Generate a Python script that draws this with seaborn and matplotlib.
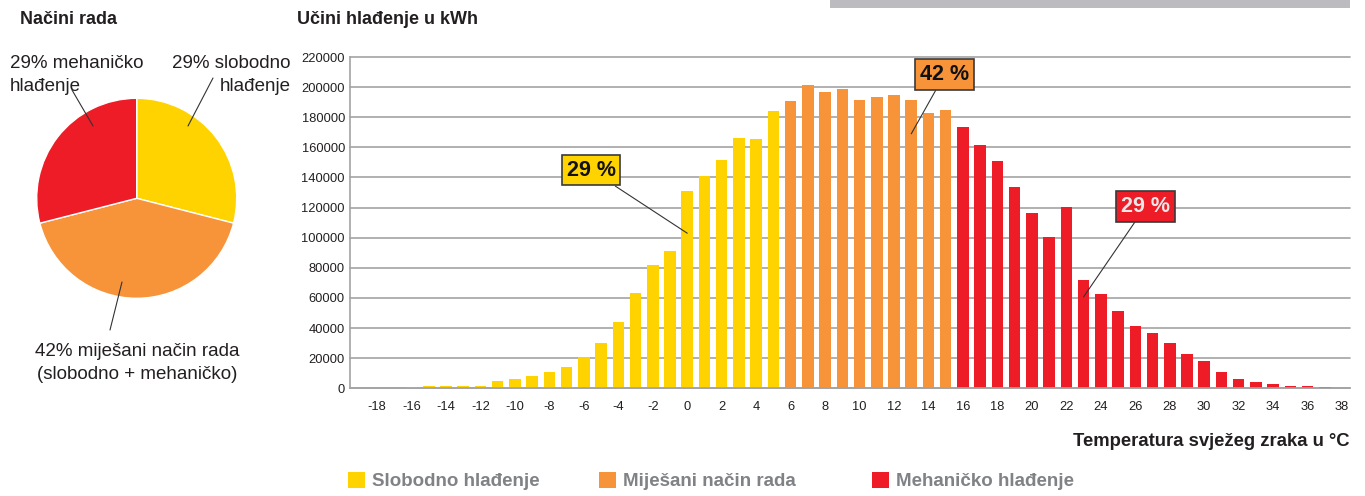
import matplotlib
matplotlib.use("Agg")
import matplotlib.pyplot as plt
import seaborn as sns
import pandas as pd
from matplotlib.patches import Patch, Rectangle

# ---------------- data ----------------
temps = list(range(-18, 39))
energy_kwh = [
    200, 300, 700, 1300, 1400, 1800, 1800, 4700, 6200, 8000,
    10900, 14400, 20900, 29800, 44200, 63400, 82000, 91300, 131000, 141200,
    151800, 166200, 165500, 183900, 190800, 201200, 197000, 198800, 191500, 193500,
    195000, 191700, 183000, 185000, 173700, 161800, 150900, 133400, 116100, 100800,
    120100, 71700, 62600, 51100, 41500, 36900, 30000, 22600, 18200, 10700,
    6200, 4200, 2900, 1600, 1600, 900, 400,
]
mode_names = ["Slobodno hlađenje", "Miješani način rada", "Mehaničko hlađenje"]
mode_colors = ["#FED300", "#F7943A", "#ED1C27"]
mixed_from_temp = 6
mech_from_temp = 16
pie_shares = [29, 42, 29]
pie_labels = ["29% slobodno\nhlađenje", "42% miješani način rada\n(slobodno + mehaničko)",
              "29% mehaničko\nhlađenje"]
box_labels = ["29 %", "42 %", "29 %"]
y_ticks = list(range(0, 220001, 20000))
x_ticks = list(range(-18, 39, 2))

modes = [mode_names[0] if t < mixed_from_temp else (mode_names[1] if t < mech_from_temp else mode_names[2])
         for t in temps]
df = pd.DataFrame({"temp": temps, "kwh": energy_kwh, "mode": modes})

# ---------------- style ----------------
sns.set_style("white")
plt.rcParams["font.family"] = ["Liberation Sans", "DejaVu Sans"]
TXT = "#231f20"

W, H = 1365, 496
fig = plt.figure(figsize=(W / 100, H / 100), dpi=100)


def fx(px):
    return px / W


def fy(py):
    return 1 - py / H


# ---------------- bar chart ----------------
ax = fig.add_axes([fx(350), fy(388.3), 1000 / W, 331.3 / H])
sns.barplot(data=df, x="temp", y="kwh", hue="mode", hue_order=mode_names, palette=mode_colors,
            native_scale=True, width=0.67, dodge=False, saturation=1, legend=False,
            linewidth=0, ax=ax)
ax.set_xlim(-19.57, 38.46)
ax.set_ylim(0, 220000)
ax.set_xticks(x_ticks)
ax.set_xticklabels([str(t) for t in x_ticks])
ax.set_yticks(y_ticks)
ax.set_yticklabels([str(v) for v in y_ticks])
ax.tick_params(axis="both", length=0, labelsize=9.3, colors=TXT)
ax.tick_params(axis="x", pad=9.4)
ax.tick_params(axis="y", pad=3.6)
ax.set_xlabel("")
ax.set_ylabel("")
ax.set_axisbelow(True)
ax.yaxis.grid(True, color="#a3a3a3", linewidth=1.2)
for gl in ax.get_ygridlines():
    gl.set_clip_on(False)
for s in ["top", "right"]:
    ax.spines[s].set_visible(False)
for s in ["left", "bottom"]:
    ax.spines[s].set_color("#a3a3a3")
    ax.spines[s].set_linewidth(1.2)

# percentage call-out boxes
box_specs = [
    (box_labels[0], (0, 103000), (-5.58, 144800), mode_colors[0], "#111111"),
    (box_labels[1], (13, 169000), (14.93, 208300), mode_colors[1], "#111111"),
    (box_labels[2], (23, 60700), (26.6, 120800), mode_colors[2], "#e8e8e8"),
]
for lab, xy, xyt, fc, tc in box_specs:
    ax.annotate(lab, xy=xy, xytext=xyt, ha="center", va="center", fontsize=15.5,
                fontweight="bold", color=tc,
                bbox=dict(boxstyle="square,pad=0.22", fc=fc, ec="#3a3a3a", lw=1.2),
                arrowprops=dict(arrowstyle="-", color="#333333", lw=0.8,
                                shrinkA=0, shrinkB=0))

# ---------------- pie chart ----------------
axp = fig.add_axes([fx(36.7), fy(298.3), 200 / W, 200 / H])
axp.pie(pie_shares, colors=mode_colors, startangle=90, counterclock=False,
        wedgeprops=dict(edgecolor="white", linewidth=1))
axp.set_xlim(-1, 1)
axp.set_ylim(-1, 1)
axp.axis("off")

pie_text_specs = [
    (pie_labels[0], (1.543, 1.433), "right", (0.763, 1.203), (0.513, 0.723)),
    (pie_labels[1], (0.003, -1.447), "center", (-0.267, -1.317), (-0.147, -0.837)),
    (pie_labels[2], (-1.267, 1.433), "left", (-0.647, 1.083), (-0.437, 0.723)),
]
for lab, pos, ha, p0, p1 in pie_text_specs:
    axp.text(pos[0], pos[1], lab, ha=ha, va="top", fontsize=13.5, color=TXT,
             linespacing=1.45, multialignment=ha, clip_on=False)
    axp.annotate("", xy=p1, xytext=p0,
                 arrowprops=dict(arrowstyle="-", color="#333333", lw=0.8, shrinkA=0, shrinkB=0),
                 annotation_clip=False)

# ---------------- titles & labels ----------------
fig.text(fx(20), fy(20), "Načini rada", ha="left", va="center", fontsize=13,
         fontweight="bold", color=TXT)
fig.text(fx(297), fy(20), "Učini hlađenje u kWh", ha="left", va="center", fontsize=13,
         fontweight="bold", color=TXT)
fig.text(fx(1350), fy(441), "Temperatura svježeg zraka u °C", ha="right", va="center",
         fontsize=13.3, fontweight="bold", color=TXT)

# legend (one entry each, spaced as in the original)
for name, col, px in zip(mode_names, mode_colors, [348, 599, 872]):
    lg = fig.legend(handles=[Patch(facecolor=col, edgecolor="none")], labels=[name],
                    loc="center left", bbox_to_anchor=(fx(px), fy(481)), frameon=False,
                    fontsize=13.5, handlelength=0.93, handleheight=0.93, handletextpad=0.33,
                    borderpad=0, borderaxespad=0)
    for t in lg.get_texts():
        t.set_color("#808285")
        t.set_fontweight("bold")

# grey banner at the top right
fig.patches.append(Rectangle((fx(830), fy(8)), 520 / W, 8 / H, transform=fig.transFigure,
                             facecolor="#bcbcc0", edgecolor="none"))

fig.savefig("out.png", dpi=100)
